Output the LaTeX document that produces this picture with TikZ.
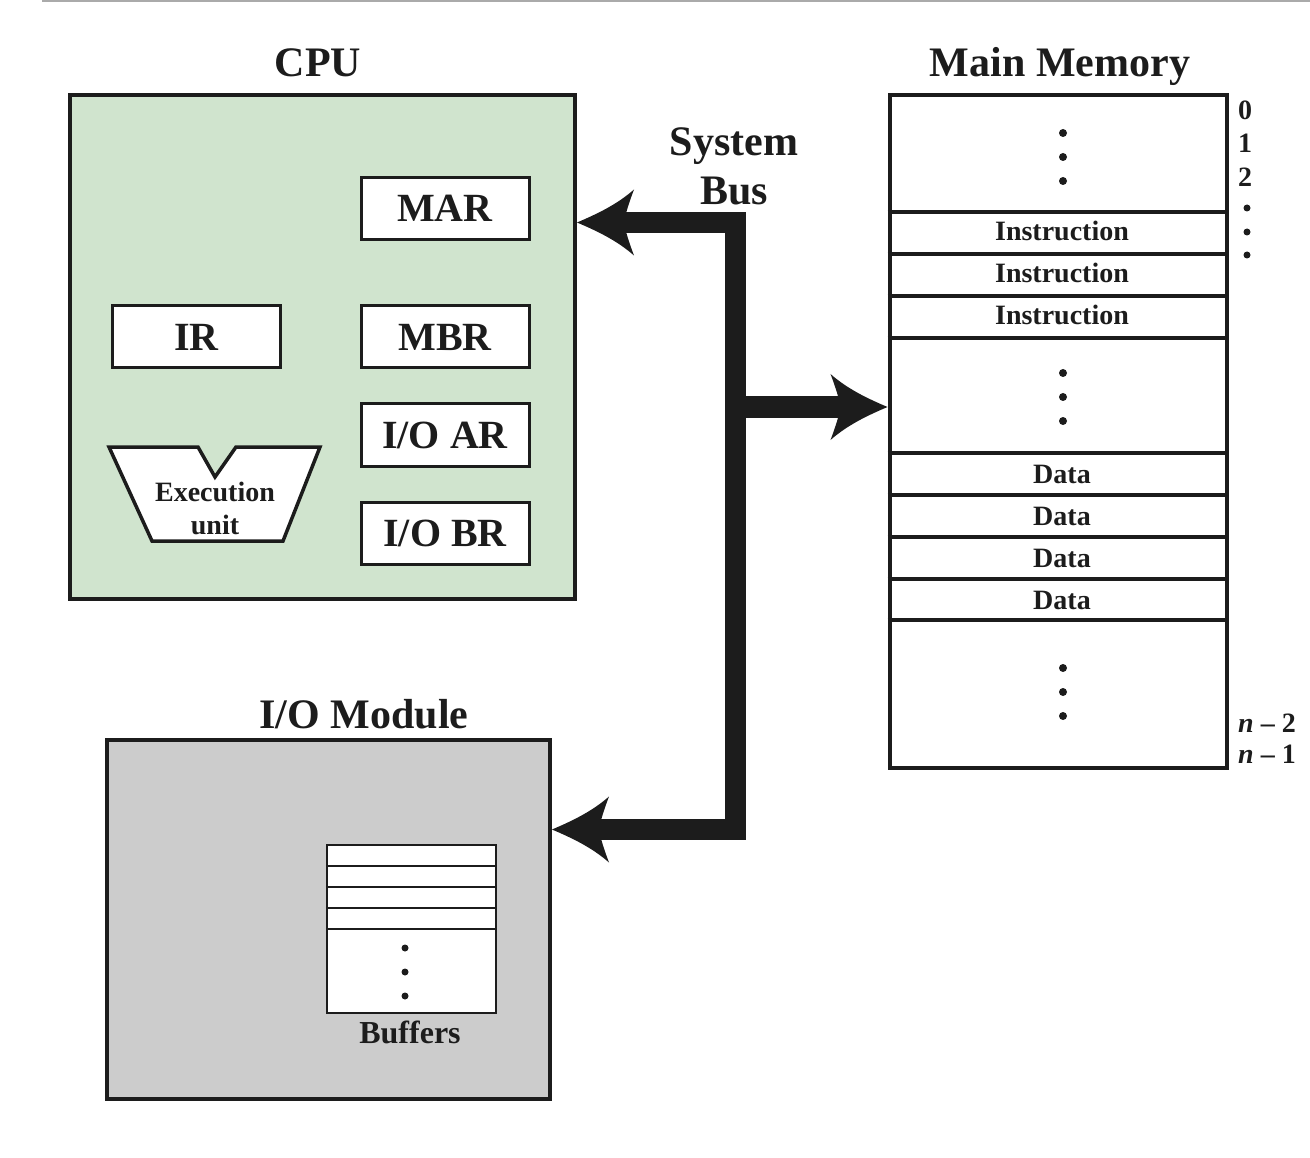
\documentclass[tikz,border=0pt]{standalone}
\usepackage{fontspec}
\setmainfont{Liberation Serif}
\usetikzlibrary{arrows.meta}

% Filled bus arrowhead with slightly concave sides
\pgfdeclarearrow{
  name = BusHead,
  setup code = {
    \pgfarrowssettipend{0pt}
    \pgfarrowssetlineend{-44pt}
    \pgfarrowssetvisualbackend{-50pt}
    \pgfarrowssetbackend{-57pt}
    \pgfarrowshullpoint{0pt}{0pt}
    \pgfarrowshullpoint{-57pt}{33pt}
    \pgfarrowshullpoint{-57pt}{-33pt}
  },
  drawing code = {
    \pgfpathmoveto{\pgfqpoint{0pt}{0pt}}
    \pgfpathcurveto{\pgfqpoint{-20pt}{8.5pt}}{\pgfqpoint{-40pt}{18pt}}{\pgfqpoint{-57pt}{33pt}}
    \pgfpathcurveto{\pgfqpoint{-52pt}{20pt}}{\pgfqpoint{-48pt}{7pt}}{\pgfqpoint{-47pt}{0pt}}
    \pgfpathcurveto{\pgfqpoint{-48pt}{-7pt}}{\pgfqpoint{-52pt}{-20pt}}{\pgfqpoint{-57pt}{-33pt}}
    \pgfpathcurveto{\pgfqpoint{-40pt}{-18pt}}{\pgfqpoint{-20pt}{-8.5pt}}{\pgfqpoint{0pt}{0pt}}
    \pgfpathclose
    \pgfusepathqfill
  }
}

\definecolor{cpugreen}{RGB}{208,228,206}
\definecolor{iogray}{RGB}{204,204,204}
\definecolor{rulegray}{RGB}{170,170,170}
\definecolor{ink}{RGB}{28,28,28}

\begin{document}
\begin{tikzpicture}[x=1pt,y=-1pt,
  every node/.style={text=ink},
  title/.style={font=\fontsize{42}{50}\selectfont\bfseries, anchor=base},
  panel/.style={draw=ink, line width=4pt, inner sep=0pt},
  reg/.style={draw=ink, fill=white, line width=3pt, minimum width=168pt,
    minimum height=62pt, inner sep=0pt, font=\fontsize{40}{48}\selectfont\bfseries},
  cell/.style={font=\fontsize{28}{33}\selectfont\bfseries, inner sep=0pt},
  sep/.style={draw=ink, line width=4pt},
  bufsep/.style={draw=ink, line width=2.5pt},
  dot/.style={fill=ink},
  index/.style={font=\fontsize{28}{33}\selectfont\bfseries, anchor=base, inner sep=0pt},
  bus/.style={draw=ink, line width=21pt, line join=miter}
]
\useasboundingbox (0,0) rectangle (1310,1158);

% rule along the top edge
\draw[rulegray, line width=2pt] (42,1) -- (1310,1);

% ---------------- CPU ----------------
\node[title] (cputitle) at (318,77) {CPU};
\node[panel, fill=cpugreen, minimum width=505.5pt, minimum height=503.5pt]
  (cpu) at (322.25,347.25) {};
\node[reg] (mar) at (445,208.5) {MAR};
\node[reg] (ir)  at (196.5,337) {IR};
\node[reg] (mbr) at (445,337) {MBR};
\node[reg] (ioar) at (445,435) {I/O AR};
\node[reg] (iobr) at (445,533.5) {I/O BR};

% execution unit outline
\draw[ink, fill=white, line width=3.5pt, line join=miter]
  (109,447) -- (198,447) -- (215,477) -- (236,447) -- (320,447)
  -- (283,541) -- (152,541) -- cycle;
\node[cell, align=center] (exec) at (215,508) {Execution\\unit};

% ---------------- Main memory ----------------
\node[title] (memtitle) at (1060,77) {Main Memory};
\node[panel, fill=white, minimum width=337.5pt, minimum height=673pt]
  (mem) at (1058.25,431.5) {};
\foreach \y in {212,254,296,338,453,495,537,579,620}
  \draw[sep] (mem.west |- 0,\y) -- (mem.east |- 0,\y);

\foreach \y in {133,157,181,373,397,421,668,692,716}
  \fill[dot] (1063,\y) circle (4);

\node[cell] (ins1) at (1062,231) {Instruction};
\node[cell] (ins2) at (1062,273) {Instruction};
\node[cell] (ins3) at (1062,315) {Instruction};
\node[cell] (dat1) at (1062,474) {Data};
\node[cell] (dat2) at (1062,516) {Data};
\node[cell] (dat3) at (1062,558) {Data};
\node[cell] (dat4) at (1062,600) {Data};

% addresses
\node[index] (a0) at (1245,120) {0};
\node[index] (a1) at (1245,153) {1};
\node[index] (a2) at (1245,187) {2};
\foreach \y in {208,232,255}
  \fill[dot] (1247,\y) circle (3.5);
\node[index, anchor=base west] (an2) at (1238,732) {\textit{n} – 2};
\node[index, anchor=base west] (an1) at (1238,763) {\textit{n} – 1};

% ---------------- I/O module ----------------
\node[title] (iotitle) at (364,728) {I/O Module};
\node[panel, fill=iogray, minimum width=443pt, minimum height=359pt]
  (io) at (328.5,919.5) {};
\node[draw=ink, fill=white, line width=2.5pt, inner sep=0pt,
  minimum width=169pt, minimum height=168pt] (buf) at (411.5,929) {};
\foreach \y in {866,887,908,929}
  \draw[bufsep] (buf.west |- 0,\y) -- (buf.east |- 0,\y);
\foreach \y in {948,972,996}
  \fill[dot] (405,\y) circle (3.5);
\node[anchor=base, font=\fontsize{32}{38}\selectfont\bfseries] (buflabel) at (410,1043) {Buffers};

% ---------------- System bus ----------------
\node[title] (bus1) at (734,156) {System};
\node[title] (bus2) at (734,205) {Bus};
\coordinate (bt) at (735.5,222.5);
\coordinate (bb) at (735.5,829.5);
\coordinate (bm) at (735.5,407);
\draw[bus, BusHead-BusHead] (cpu.east |- bt) -- (bt) -- (bb) -- (io.east |- bb);
\draw[bus, -BusHead] (bm) -- (mem.west |- bm);

\end{tikzpicture}
\end{document}
